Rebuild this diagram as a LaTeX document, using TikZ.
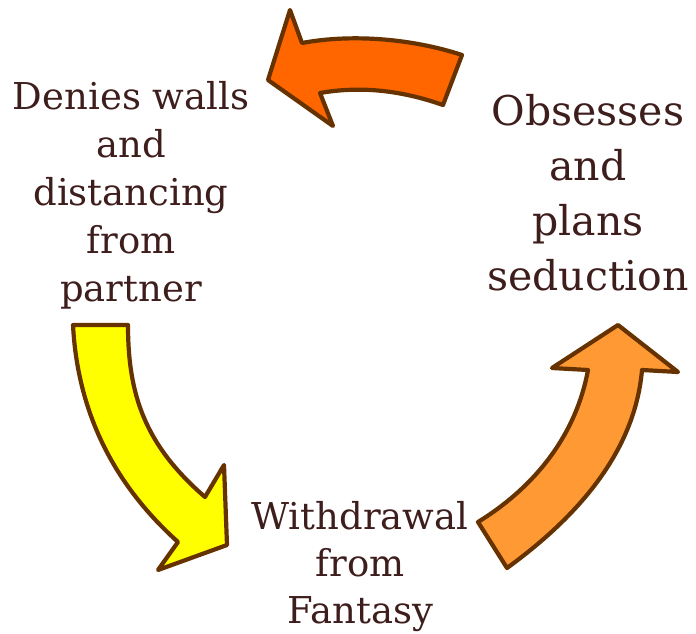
\documentclass[tikz,border=0pt]{standalone}
\usepackage{fontspec}
\setmainfont{DejaVu Serif}
\definecolor{outl}{HTML}{663300}
\definecolor{txt}{HTML}{3E1E1C}
\definecolor{arrA}{HTML}{FF6600}
\definecolor{arrB}{HTML}{FFFF00}
\definecolor{arrC}{HTML}{FF9933}
\tikzset{
  blockarrow/.style={draw=outl, line width=4.2pt, line join=round},
  lbl/.style={text=txt, align=center, inner sep=0pt, anchor=north}
}
\begin{document}
\begin{tikzpicture}[x=1pt,y=-1pt]
\useasboundingbox (0,0) rectangle (696,634);
% top arrow (towards left)
\path[blockarrow, fill=arrA] (268,80) -- (290,10) -- (302,43)
  .. controls (350,34) and (410,38) .. (462,55) -- (443,105)
  .. controls (400,90) and (360,86) .. (320,93) -- (333,126) -- cycle;
% left arrow (downwards)
\path[blockarrow, fill=arrB] (73,325) -- (128,325)
  .. controls (128,395) and (145,445) .. (205,497) -- (224,465) -- (227,545)
  -- (158,570) -- (178,542)
  .. controls (120,490) and (78,420) .. (73,325) -- cycle;
% right arrow (upwards)
\path[blockarrow, fill=arrC] (478,522) -- (507,568)
  .. controls (580,515) and (635,450) .. (642,370) -- (678,372) -- (618,325)
  -- (552,368) -- (588,370)
  .. controls (575,440) and (530,490) .. (478,522) -- cycle;
% labels
\node[lbl, font=\fontsize{37}{48}\selectfont] (deny) at (131,81)
  {Denies walls\\and\\distancing\\from\\partner};
\node[lbl, font=\fontsize{41}{55}\selectfont] (obs) at (588,94)
  {Obsesses\\and\\plans\\seduction};
\node[lbl, font=\fontsize{37}{47}\selectfont] (wd) at (360,501)
  {Withdrawal\\from\\Fantasy};
\end{tikzpicture}
\end{document}
